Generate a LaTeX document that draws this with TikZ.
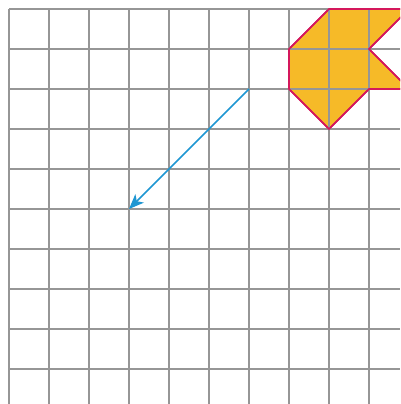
\documentclass[tikz,border=0pt]{standalone}
\usetikzlibrary{arrows.meta}
\definecolor{gridc}{RGB}{150,150,150}
\definecolor{shapefill}{RGB}{246,186,40}
\definecolor{shapeedge}{RGB}{212,24,92}
\definecolor{arrowc}{RGB}{30,150,210}
\tikzset{
  gridline/.style={draw=gridc, line width=1.1pt},
  figure/.style={fill=shapefill, draw=shapeedge, line width=1.6pt, line join=miter},
  vec/.style={draw=arrowc, line width=1.5pt, -{Stealth[length=15pt,width=12pt,inset=4pt]}}
}
\begin{document}
\begin{tikzpicture}[x=1pt,y=-1pt]
\useasboundingbox (0,0) rectangle (400,404);
\fill[white] (0,0) rectangle (400,404);
\begin{scope}
\clip (0,0) rectangle (400,404);
\path[figure] (329,9) -- (409,9) -- (369,49) -- (409,89) -- (369,89) -- (329,129) -- (289,89) -- (289,49) -- cycle;
\foreach \k in {0,...,9} {
  \draw[gridline] ({9+40*\k},9) -- ({9+40*\k},404);
  \draw[gridline] (9,{9+40*\k}) -- (400,{9+40*\k});
}
\path[figure, fill=none] (329,9) -- (409,9) -- (369,49) -- (409,89) -- (369,89) -- (329,129) -- (289,89) -- (289,49) -- cycle;
\end{scope}
\coordinate (start) at (249,89);
\coordinate (tip) at (129,209);
\draw[vec] (start) -- (tip);
\end{tikzpicture}
\end{document}
